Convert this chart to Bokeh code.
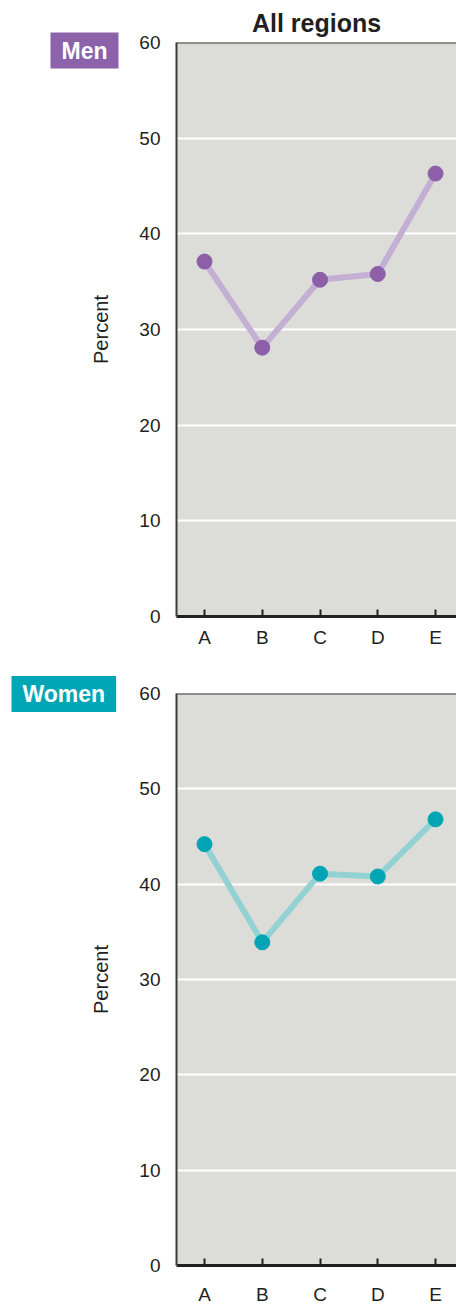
from bokeh.plotting import figure
from bokeh.layouts import column
from bokeh.models import FixedTicker, Range1d, Title, Span, Label
from bokeh.embed import file_html
from bokeh.resources import INLINE

categories = ["A", "B", "C", "D", "E"]
men = [37.1, 28.1, 35.2, 35.8, 46.3]
women = [44.2, 33.9, 41.1, 40.8, 46.8]
y_ticks = [0, 10, 20, 30, 40, 50, 60]

FONT = "Liberation Sans"
TXT = "#231f20"
BG = "#dcddd8"


def make_panel(values, line_color, dot_color, height, top, bottom,
               title=None, label_standoff=10):
    p = figure(width=456, height=height, output_backend="svg",
               toolbar_location=None, min_border_left=176, min_border_right=0,
               min_border_top=top, min_border_bottom=bottom,
               x_range=Range1d(-0.485, 4.363), y_range=Range1d(0, 60))
    p.background_fill_color = BG
    p.border_fill_color = "white"
    p.outline_line_color = None
    if title:
        p.title.text = title
        p.title.text_font = FONT
        p.title.text_font_size = "25px"
        p.title.text_font_style = "bold"
        p.title.text_color = TXT
        p.title.align = "center"
        p.title.standoff = 12

    xs = list(range(len(categories)))
    p.line(xs, values, line_color=line_color, line_width=6)
    p.scatter(xs, values, size=15, fill_color=dot_color, line_color=dot_color)

    p.xgrid.visible = False
    p.ygrid.ticker = FixedTicker(ticks=y_ticks)
    p.ygrid.grid_line_color = "white"
    p.ygrid.grid_line_width = 2

    xa = p.xaxis[0]
    xa.ticker = FixedTicker(ticks=xs)
    xa.major_label_overrides = {i: c for i, c in enumerate(categories)}
    xa.major_tick_in = 7
    xa.major_tick_out = 0
    xa.major_tick_line_width = 2
    xa.major_tick_line_color = TXT
    xa.minor_tick_line_color = None
    xa.axis_line_width = 3
    xa.axis_line_color = TXT
    xa.major_label_text_font = FONT
    xa.major_label_text_font_size = "19px"
    xa.major_label_text_color = TXT
    xa.major_label_standoff = label_standoff

    ya = p.yaxis[0]
    ya.ticker = FixedTicker(ticks=y_ticks)
    ya.major_tick_line_color = None
    ya.minor_tick_line_color = None
    ya.axis_line_width = 2
    ya.axis_line_color = "#3a3a3a"
    ya.major_label_text_font = FONT
    ya.major_label_text_font_size = "19px"
    ya.major_label_text_color = TXT
    ya.major_label_standoff = 10
    ya.axis_label = "Percent"
    ya.axis_label_text_font = FONT
    ya.axis_label_text_font_size = "20px"
    ya.axis_label_text_font_style = "normal"
    ya.axis_label_text_color = TXT
    ya.axis_label_standoff = 24

    p.add_layout(Span(location=60, dimension="width", line_color="#3a3a3a",
                      line_width=2))
    return p


p1 = make_panel(men, "#c3aed4", "#8c5fa8", height=668, top=42, bottom=52,
                title="All regions")
# "Men" box, drawn in the left border panel
p1.add_layout(Label(x=118, y=59.16, x_units="canvas", y_units="data",
                    text="Men", text_font=FONT, text_font_size="23px",
                    text_font_style="bold", text_color="white",
                    text_align="right", text_baseline="middle",
                    background_fill_color="#8c62aa", padding=(11, 5)), "left")

p2 = make_panel(women, "#93d2d3", "#00a5b5", height=639, top=25, bottom=39,
                label_standoff=18)
# "Women" box, drawn in the top border panel
p2.add_layout(Title(text="Women", align="left", offset=11 - 176,
                    text_font=FONT, text_font_size="23px",
                    text_font_style="bold", text_color="white",
                    background_fill_color="#00a6b5", padding=(11, 5),
                    standoff=-37), "above")

layout = column(p1, p2, spacing=0)
open("out.html", "w").write(file_html(layout, INLINE))
